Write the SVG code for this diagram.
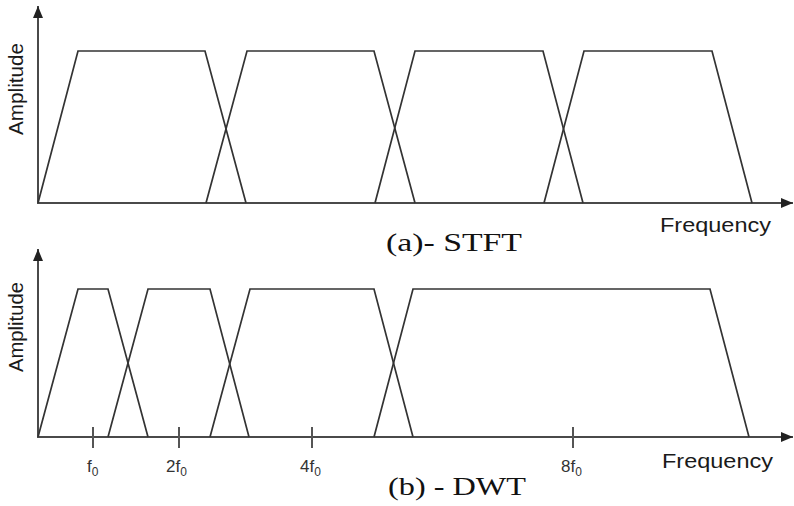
<svg xmlns="http://www.w3.org/2000/svg" width="794" height="506" viewBox="0 0 794 506">
<style>
.ax{stroke:#4a4a4a;stroke-width:2;fill:none}
.tr{stroke:#333;stroke-width:1.7;fill:none;stroke-linejoin:miter}
.tk{stroke:#555;stroke-width:2}
.lab{font-family:"Liberation Sans",Arial,sans-serif;fill:#1a1a1a}
.cap{font-family:"Liberation Serif","Times New Roman",serif;fill:#111}
.tl{font-family:"Liberation Sans",Arial,sans-serif;fill:#333;font-size:17px}
</style>
<defs>
<marker id="ah" markerWidth="12" markerHeight="10" refX="12" refY="5" orient="auto" markerUnits="userSpaceOnUse">
<path d="M0,0 L12,5 L0,10 Z" fill="#222"/>
</marker>
</defs>
<rect width="794" height="506" fill="#fff"/>
<g id="connectors">
<line class="ax" x1="38" y1="203" x2="38" y2="6" marker-end="url(#ah)"/>
<line class="ax" x1="37" y1="203" x2="793" y2="203" marker-end="url(#ah)"/>
<line class="ax" x1="38" y1="437" x2="38" y2="249" marker-end="url(#ah)"/>
<line class="ax" x1="37" y1="437" x2="793" y2="437" marker-end="url(#ah)"/>
</g>
<g id="stft">
<polyline class="tr" points="38,203 78,51 205,51 246,203"/>
<polyline class="tr" points="206,203 247,51 374,51 415,203"/>
<polyline class="tr" points="375,203 415,51 543,51 583,203"/>
<polyline class="tr" points="544,203 584,51 712,51 752,203"/>
</g>
<g id="dwt">
<polyline class="tr" points="38,437 78,289 108,289 148,437"/>
<polyline class="tr" points="108,437 148,289 210,289 249,437"/>
<polyline class="tr" points="210,437 250,289 374,289 413,437"/>
<polyline class="tr" points="374,437 413,289 710,289 749,437"/>
</g>
<g id="ticks">
<line class="tk" x1="93" y1="427" x2="93" y2="448"/>
<line class="tk" x1="179" y1="427" x2="179" y2="448"/>
<line class="tk" x1="312" y1="427" x2="312" y2="448"/>
<line class="tk" x1="573" y1="427" x2="573" y2="448"/>
</g>
<g id="tick-labels">
<text class="tl" x="87" y="472">f<tspan font-size="12" dy="4">0</tspan></text>
<text class="tl" x="166" y="472">2f<tspan font-size="12" dy="4">0</tspan></text>
<text class="tl" x="300" y="472">4f<tspan font-size="12" dy="4">0</tspan></text>
<text class="tl" x="561" y="472">8f<tspan font-size="12" dy="4">0</tspan></text>
</g>
<g id="labels">
<text class="lab" font-size="20" transform="translate(23,135) rotate(-90)" textLength="92" lengthAdjust="spacingAndGlyphs">Amplitude</text>
<text class="lab" font-size="20" transform="translate(23,372) rotate(-90)" textLength="90" lengthAdjust="spacingAndGlyphs">Amplitude</text>
<text class="lab" font-size="20" x="660" y="232" textLength="111" lengthAdjust="spacingAndGlyphs">Frequency</text>
<text class="lab" font-size="20" x="662" y="468" textLength="111" lengthAdjust="spacingAndGlyphs">Frequency</text>
<text class="cap" font-size="26" x="386" y="251" textLength="136" lengthAdjust="spacingAndGlyphs">(a)- STFT</text>
<text class="cap" font-size="26" x="388" y="495" textLength="138" lengthAdjust="spacingAndGlyphs">(b) - DWT</text>
</g>
</svg>
